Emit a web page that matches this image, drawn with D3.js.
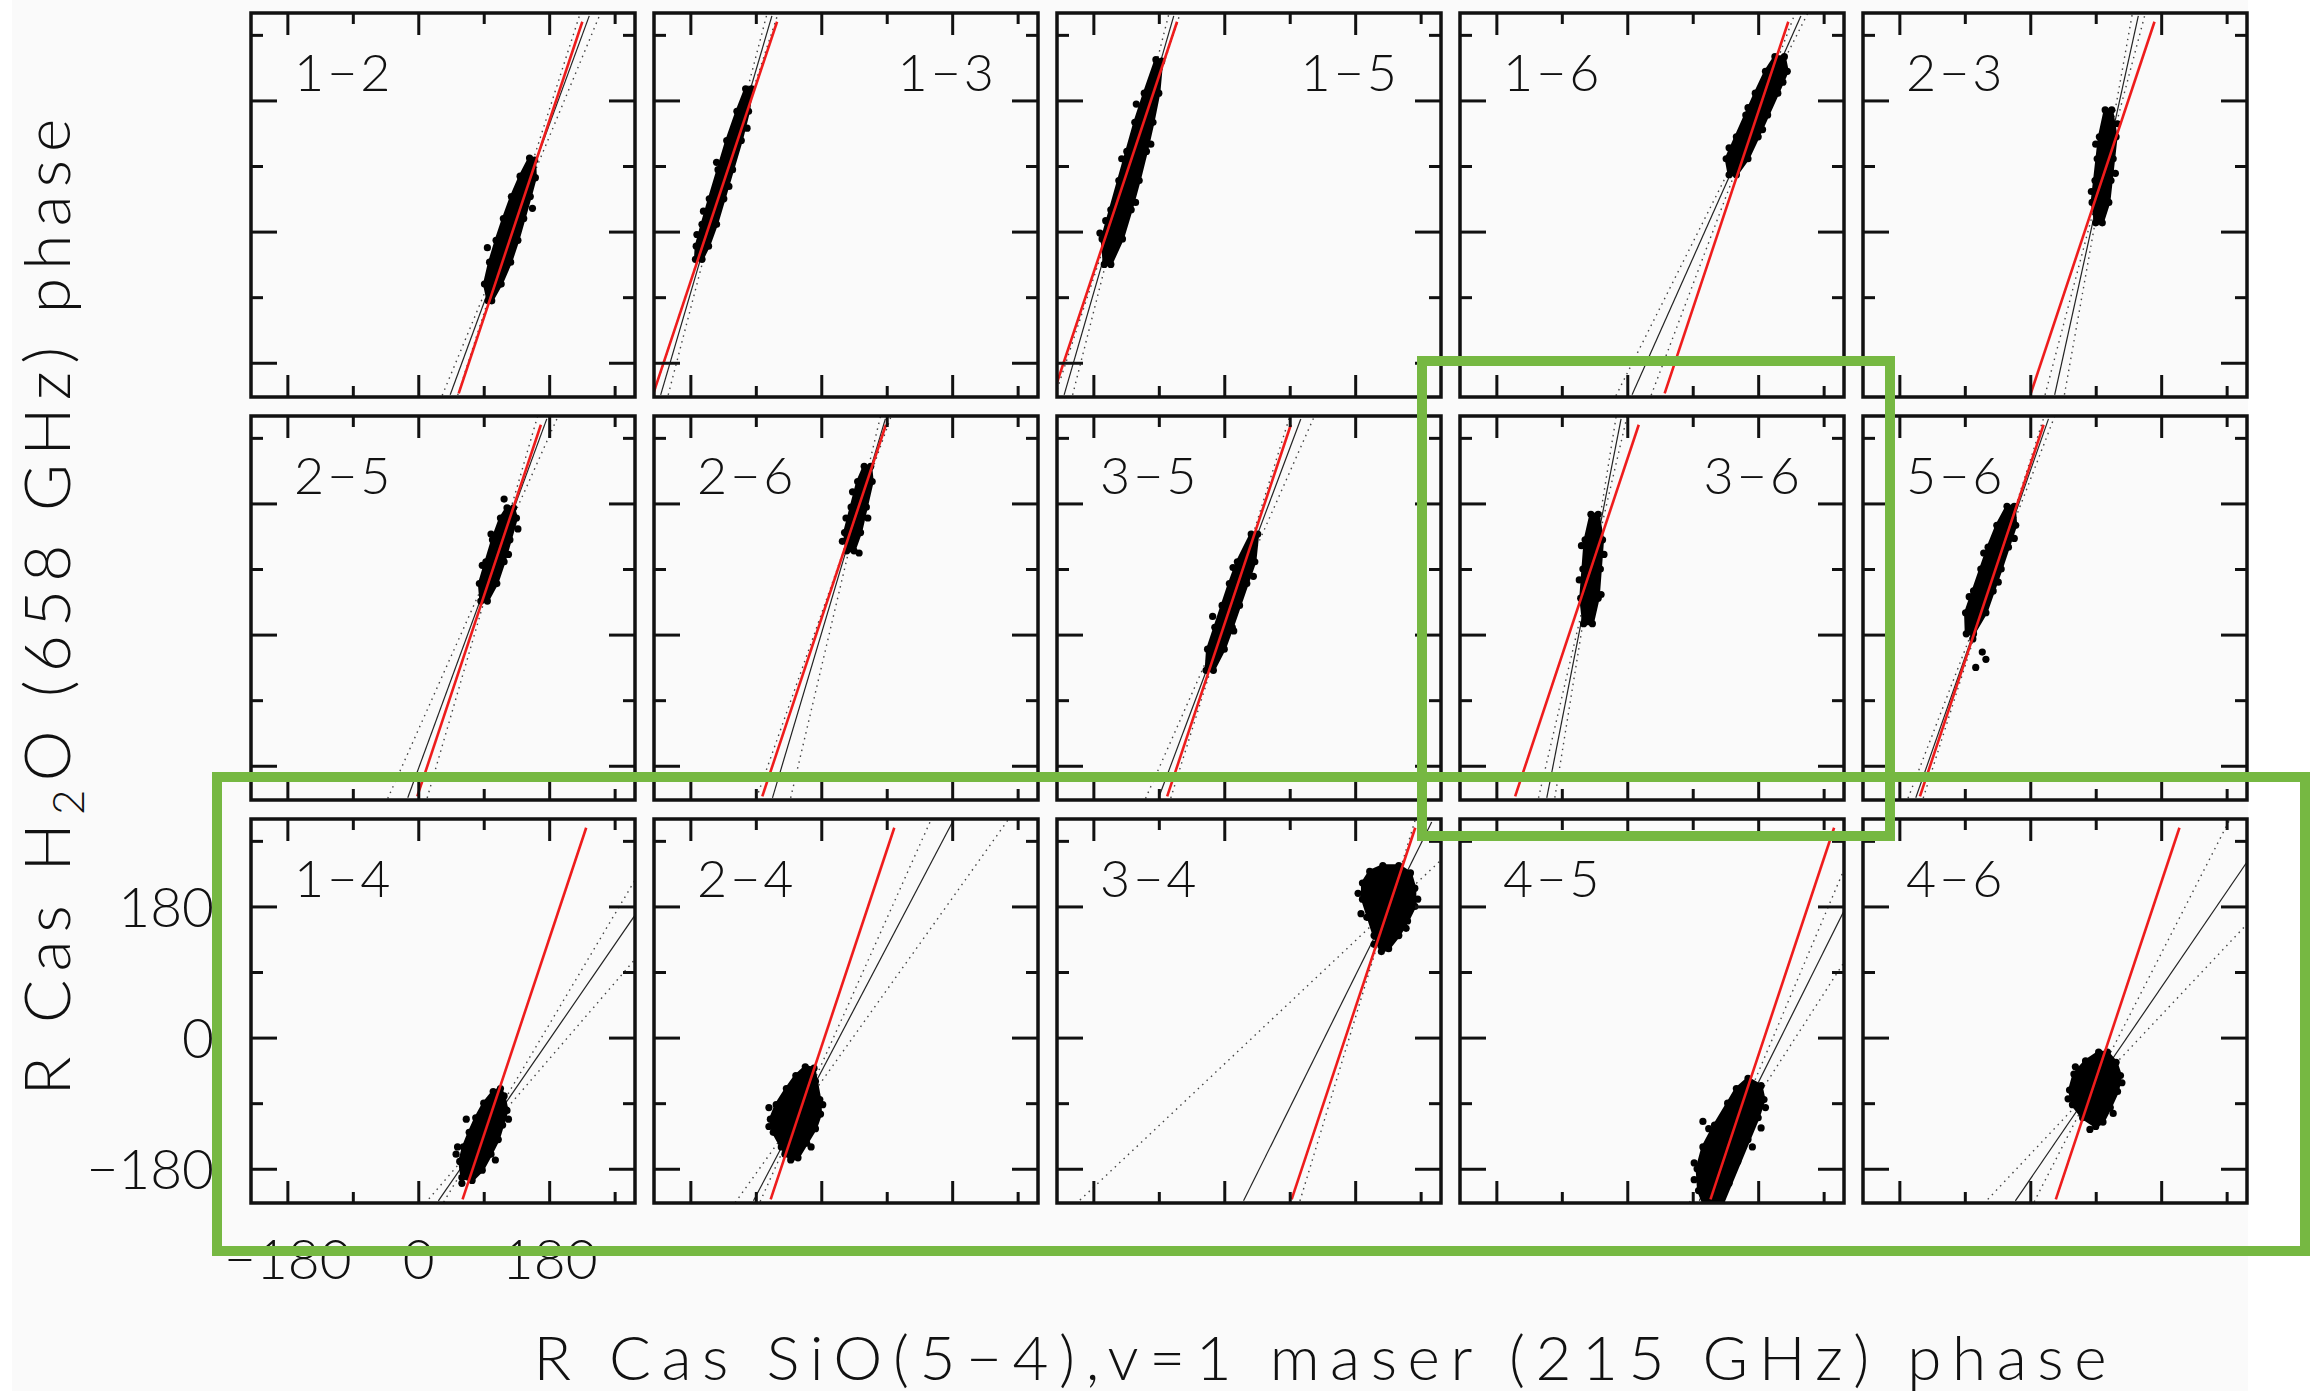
<!DOCTYPE html>
<meta charset="utf-8">

<style>
  body { margin: 0; background: #fff; }
  .chart text { font-family: Lato, "Liberation Sans", sans-serif; font-weight: 300; fill: #111; }
  .chart .frame { fill: none; stroke: #111; stroke-width: 3.5px; }
  .chart .tick line { stroke: #111; stroke-width: 3px; }
  .chart .domain { display: none; }
  .chart .red { fill: none; stroke: #ee1c1c; stroke-width: 2.6px; }
  .chart .fit { fill: none; stroke: #222; stroke-width: 1.2px; }
  .chart .err { fill: none; stroke: #444; stroke-width: 1.4px; stroke-dasharray: 1.5 4.5; }
  .chart .cloud { fill: #000; stroke: #000; stroke-width: 3px; stroke-linejoin: round; }
  .chart .mark { fill: none; stroke: #76b842; stroke-width: 10px; }
</style>

<body>
<svg class="chart"></svg>
<script src="https://d3js.org/d3.v7.min.js"></script>

<script type="text/javascript">

    // baseline pairs, row by row
    var pairLabels = ["1−2", "1−3", "1−5", "1−6", "2−3",
                      "2−5", "2−6", "3−5", "3−6", "5−6",
                      "1−4", "2−4", "3−4", "4−5", "4−6"];
    var rightLabels = ["1−3", "1−5", "3−6"];

    var majorTicks = [-180, 0, 180];
    var minorTicks = [-90, 90, 270];

    // phase clouds (SiO phase, H2O phase) in degrees, outer points of each cloud
    var cloud12 = [[96,-95],[91,-72],[98,-42],[107,-12],[117,18],[128,48],[140,76],[153,101],[160,98],[161,74],[154,48],[145,18],[137,-12],[127,-42],[114,-72],[101,-95]];
    var cloud13 = [[-173,-38],[-172,-20],[-164,10],[-154,45],[-142,85],[-130,125],[-116,165],[-104,196],[-96,196],[-100,165],[-110,125],[-122,85],[-134,45],[-144,10],[-155,-20],[-164,-38]];
    var cloud15 = [[-165,-45],[-168,-10],[-156,30],[-145,70],[-134,110],[-123,150],[-110,190],[-94,236],[-86,234],[-90,190],[-98,150],[-107,110],[-117,70],[-128,30],[-140,-10],[-156,-45]];
    var cloud16 = [[140,78],[136,100],[150,130],[163,160],[176,190],[190,220],[203,240],[216,240],[220,220],[207,190],[193,160],[180,130],[166,100],[150,78]];
    var cloud23 = [[90,12],[85,40],[89,70],[92,100],[95,130],[103,167],[112,167],[118,130],[114,100],[111,70],[108,40],[99,12]];
    var cloud25 = [[86,46],[84,70],[93,100],[102,130],[113,160],[122,174],[131,174],[135,160],[126,130],[118,100],[108,70],[95,46]];
    var cloud26 = [[35,115],[32,140],[41,175],[50,210],[59,231],[68,231],[70,210],[62,175],[54,140],[45,115]];
    var cloud35 = [[-25,-49],[-23,-20],[-13,10],[-3,40],[7,70],[18,100],[37,138],[46,138],[42,100],[31,70],[21,40],[11,10],[0,-20],[-15,-49]];
    var cloud36 = [[-60,15],[-64,50],[-61,90],[-58,130],[-50,165],[-40,165],[-34,130],[-37,90],[-40,50],[-48,15]];
    var cloud56 = [[-88,1],[-89,30],[-78,60],[-68,90],[-58,120],[-46,150],[-32,176],[-22,176],[-20,150],[-30,120],[-40,90],[-51,60],[-61,30],[-78,1]];
    var cloud14 = [[60,-192],[57,-170],[62,-150],[70,-130],[79,-110],[90,-90],[103,-74],[113,-70],[118,-80],[122,-100],[116,-120],[110,-140],[100,-160],[88,-182],[74,-196]];
    var cloud24 = [[-42,-168],[-55,-150],[-66,-130],[-70,-112],[-62,-92],[-48,-70],[-35,-52],[-22,-40],[-10,-42],[-8,-60],[-2,-85],[-1,-105],[-8,-125],[-20,-145],[-32,-165]];
    var cloud34 = [[216,118],[206,140],[198,165],[190,190],[190,212],[200,228],[218,236],[240,236],[256,226],[262,205],[262,180],[252,160],[240,140],[226,122]];
    var cloud45 = [[166,-56],[150,-70],[138,-90],[120,-120],[104,-150],[96,-180],[98,-210],[106,-230],[130,-230],[140,-200],[152,-170],[166,-140],[180,-110],[188,-85],[184,-66]];
    var cloud46 = [[90,-122],[72,-110],[58,-92],[54,-72],[60,-50],[76,-32],[94,-20],[106,-20],[118,-34],[124,-52],[120,-74],[110,-96],[100,-116]];

    var clouds = [cloud12, cloud13, cloud15, cloud16, cloud23,
                  cloud25, cloud26, cloud35, cloud36, cloud56,
                  cloud14, cloud24, cloud34, cloud45, cloud46];

    // loose points around the dense part of each cloud
    var strays = [
        [[95,-22],[157,32],[100,-50],[150,60]],
        [[-171,-4],[-162,28],[-127,62],[-102,142],[-144,95]],
        [[-171,-2],[-163,15],[-122,40],[-141,100],[-101,120],[-121,175]],
        [[140,115],[186,140],[166,170],[214,205]],
        [[84,55],[117,80],[90,120],[120,148]],
        [[118,186],[88,95],[124,110],[137,145],[100,138]],
        [[34,160],[29,128],[64,160],[43,196],[52,112]],
        [[-16,25],[13,5],[40,80],[12,92]],
        [[-66,75],[-32,110],[-63,122],[-36,55]],
        [[-79,-6],[-66,-24],[-61,-34],[-75,-45],[-84,52],[-44,72],[-64,112],[-22,132]],
        [[60,-200],[52,-160],[54,-150],[124,-112],[66,-112],[106,-168]],
        [[-72,-96],[-72,-122],[2,-92],[-50,-160],[-14,-150]],
        [[188,170],[196,165],[184,198],[266,190],[206,128],[250,150]],
        [[104,-115],[92,-172],[184,-124],[112,-125],[172,-150],[92,-195],[190,-96]],
        [[82,-126],[52,-84],[126,-62],[62,-40],[114,-104]]
    ];

    // fitted line (black) with its slope range (dotted), through the pivot
    var fitPivot = [[127,2],[-132,78],[-128,94],[178,160],[103,90],
                    [112,120],[52,175],[9,40],[-49,90],[-49,85],
                    [89,-135],[-28,-100],[225,175],[141,-140],[85,-70]];
    var fitSlope = [2.72, 3.40, 3.45, 2.24, 4.52,
                    2.72, 3.35, 2.66, 5.09, 2.85,
                    1.45, 1.90, 2.01, 2.00, 1.46];
    var errSlopes = [[2.41,3.11],[3.05,3.85],[3.05,3.95],[1.99,2.65],[3.8,5.6],
                     [2.24,3.45],[2.83,4.24],[2.26,3.2],[4.3,6.2],[2.6,3.15],
                     [1.16,1.68],[1.40,2.23],[0.94,3.3],[1.55,2.36],[1.06,1.95]];

    // frequency-ratio model (red): slope and SiO phase at zero H2O phase
    var redSlope = 3.0;
    var redZeroX = [129.6, -156.8, -160.9, 125.4, 74.8,
                    72.6, -7.1, -4.5, -80.2, -77.7,
                    134.9, 4.4, 166.6, 188.4, 109.1];

    //setting up the chart area

    var w = 2314;
    var h = 1391;
    var size = 384, step = 403, left0 = 251, top0 = 13;

    var chart = d3.select(".chart")
        .attr("width", w)
        .attr("height", h);

    chart.append("rect").attr("width", w).attr("height", h).attr("fill", "#fff");
    chart.append("rect").attr("x", 12).attr("width", 2236).attr("height", h).attr("fill", "#fafafa");

    var x = d3.scaleLinear().domain([-230, 298]).range([0, size]);
    var y = d3.scaleLinear().domain([-227, 300]).range([size, 0]);

    var line = d3.line()
        .x(function (d) { return x(d[0]); })
        .y(function (d) { return y(d[1]); });

    var through = function (slope, px, py, y0, y1) {
        return [[px + (y0 - py) / slope, y0], [px + (y1 - py) / slope, y1]];
    };

    var tickAxis = function (axis, vals, len) {
        return function (g) {
            g.call(axis.tickValues(vals).tickSize(-len).tickFormat(""));
            g.selectAll("text").remove();
        };
    };

    pairLabels.forEach(function (label, i) {
        var col = i % 5, row = Math.floor(i / 5);
        var g = chart.append("g")
            .attr("transform", "translate(" + (left0 + col * step) + "," + (top0 + row * step) + ")");

        g.append("clipPath").attr("id", "clip" + i)
            .append("rect").attr("width", size).attr("height", size);
        var inner = g.append("g").attr("clip-path", "url(#clip" + i + ")");

        var p = fitPivot[i];
        errSlopes[i].forEach(function (s) {
            inner.append("path").attr("class", "err")
                .attr("d", line(through(s, p[0], p[1], -240, 320)));
        });
        inner.append("path").attr("class", "fit")
            .attr("d", line(through(fitSlope[i], p[0], p[1], -224, 296)));

        var hull = d3.polygonHull(clouds[i].map(function (d) { return [x(d[0]), y(d[1])]; }));
        inner.append("path").attr("class", "cloud").attr("d", "M" + hull.join("L") + "Z");

        inner.selectAll("circle")
            .data(clouds[i].concat(strays[i]))
            .enter().append("circle")
            .attr("cx", function (d) { return x(d[0]); })
            .attr("cy", function (d) { return y(d[1]); })
            .attr("r", 3.6)
            .attr("fill", "#000");

        inner.append("path").attr("class", "red")
            .attr("d", line(through(redSlope, redZeroX[i], 0, -222, 288)));

        g.append("rect").attr("class", "frame").attr("width", size).attr("height", size);

        g.append("g").attr("transform", "translate(0," + size + ")").call(tickAxis(d3.axisBottom(x), majorTicks, 22));
        g.append("g").attr("transform", "translate(0," + size + ")").call(tickAxis(d3.axisBottom(x), minorTicks, 11));
        g.append("g").call(tickAxis(d3.axisTop(x), majorTicks, 22));
        g.append("g").call(tickAxis(d3.axisTop(x), minorTicks, 11));
        g.append("g").call(tickAxis(d3.axisLeft(y), majorTicks, 26));
        g.append("g").call(tickAxis(d3.axisLeft(y), minorTicks, 12));
        g.append("g").attr("transform", "translate(" + size + ",0)").call(tickAxis(d3.axisRight(y), majorTicks, 26));
        g.append("g").attr("transform", "translate(" + size + ",0)").call(tickAxis(d3.axisRight(y), minorTicks, 12));

        var right = rightLabels.indexOf(label) >= 0;
        g.append("text")
            .attr("x", right ? size - 41 : 43)
            .attr("y", 78)
            .attr("text-anchor", right ? "end" : "start")
            .style("font-size", "52px")
            .style("letter-spacing", "3px")
            .text(label);

        // numbered axes only on the bottom-left panel
        if (i === 10) {
            var xl = g.append("g").attr("transform", "translate(0," + size + ")")
                .call(d3.axisBottom(x).tickValues(majorTicks).tickSize(0));
            xl.selectAll("text").attr("y", 76).attr("dy", null)
                .attr("fill", null).style("font-size", "55px");
            var yl = g.append("g")
                .call(d3.axisLeft(y).tickValues(majorTicks).tickSize(0));
            yl.selectAll("text").attr("x", -37).attr("dy", "0.36em")
                .attr("fill", null).style("font-size", "55px");
        }
    });

    // axis titles
    var yt = chart.append("text")
        .attr("transform", "translate(70,607) rotate(-90)")
        .attr("text-anchor", "middle")
        .attr("textLength", 977)
        .attr("lengthAdjust", "spacing")
        .style("font-size", "64px");
    yt.append("tspan").text("R Cas H");
    yt.append("tspan").attr("dy", 14).style("font-size", "44px").text("2");
    yt.append("tspan").attr("dy", -14).text("O (658 GHz) phase");

    chart.append("text")
        .attr("x", 1320)
        .attr("y", 1380)
        .attr("text-anchor", "middle")
        .attr("textLength", 1573)
        .attr("lengthAdjust", "spacing")
        .style("font-size", "62px")
        .text("R Cas SiO(5−4),v=1 maser (215 GHz) phase");

    // highlight boxes
    chart.append("rect").attr("class", "mark")
        .attr("x", 217).attr("y", 777).attr("width", 2088).attr("height", 474);
    chart.append("rect").attr("class", "mark")
        .attr("x", 1422).attr("y", 361).attr("width", 468).attr("height", 475);

</script>

</body>
